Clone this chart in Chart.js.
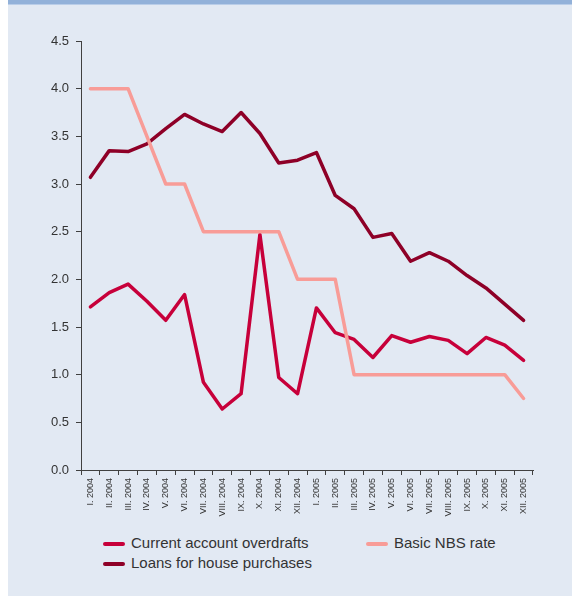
<!DOCTYPE html>
<html>
<head>
<meta charset="utf-8">
<script src="https://cdn.jsdelivr.net/npm/chart.js@4.4.0/dist/chart.umd.min.js"></script>
<style>
  html, body { margin: 0; padding: 0; background: #ffffff; }
  #panel { position: absolute; left: 8px; top: 0; width: 564px; height: 596px; background: #E2E9F3; }
  #bar { position: absolute; left: 0; top: 0; width: 564px; height: 4px; background: #92B1D9; border-bottom: 1px solid #B9CDE8; }
  #wrap { position: absolute; left: 0; top: 5px; width: 564px; height: 520px; }
  #legend { position: absolute; left: 95px; top: 533px; width: 460px; font-family: "Liberation Sans", Arial, sans-serif; font-size: 15px; color: #333; }
  .item { position: absolute; height: 20px; line-height: 20px; white-space: nowrap; }
  .item span.mark { display: inline-block; width: 22px; height: 4px; border-radius: 2px; vertical-align: middle; margin-right: 6px; }
</style>
</head>
<body>
<div id="panel">
  <div id="bar"></div>
  <div id="wrap"><canvas id="LineChart" width="564" height="520"></canvas></div>
  <div id="legend"></div>
</div>
<script>
var months = ["I.", "II.", "III.", "IV.", "V.", "VI.", "VII.", "VIII.", "IX.", "X.", "XI.", "XII."];
var labels = months.map(function (m) { return m + " 2004"; })
  .concat(months.map(function (m) { return m + " 2005"; }));

var overdrafts = [1.71, 1.86, 1.95, 1.77, 1.57, 1.84, 0.92, 0.64, 0.80, 2.47, 0.97, 0.80,
                  1.70, 1.44, 1.37, 1.18, 1.41, 1.34, 1.40, 1.36, 1.22, 1.39, 1.31, 1.15];
var housing = [3.07, 3.35, 3.34, 3.42, 3.58, 3.73, 3.63, 3.55, 3.75, 3.53, 3.22, 3.25,
               3.33, 2.88, 2.74, 2.44, 2.48, 2.19, 2.28, 2.19, 2.04, 1.91, 1.74, 1.57];
var nbsRate = [4.0, 4.0, 4.0, 3.5, 3.0, 3.0, 2.5, 2.5, 2.5, 2.5, 2.5, 2.0,
               2.0, 2.0, 1.0, 1.0, 1.0, 1.0, 1.0, 1.0, 1.0, 1.0, 1.0, 0.75];

var axisColor = "#404040";
var font = "'Liberation Sans', Arial, sans-serif";

// order: lower number is drawn on top (pink rate line sits over the others)
var datasets = [
  { label: "Current account overdrafts", data: overdrafts, borderColor: "#C7003A", order: 1 },
  { label: "Basic NBS rate", data: nbsRate, borderColor: "#F89C97", order: 0 },
  { label: "Loans for house purchases", data: housing, borderColor: "#8E0027", order: 2 }
];
datasets.forEach(function (d) {
  d.borderWidth = 3.5;
  d.pointRadius = 0;
  d.tension = 0;
  d.fill = false;
  d.borderJoinStyle = "round";
  d.borderCapStyle = "round";
});

var ctx = document.getElementById("LineChart").getContext('2d');
var myChart = new Chart(ctx, {
  type: 'line',
  data: { labels: labels, datasets: datasets },
  options: {
    responsive: false,
    animation: false,
    layout: { padding: { left: 0, top: 36, right: 39, bottom: 0 } },
    plugins: { legend: { display: false }, tooltip: { enabled: false } },
    scales: {
      x: {
        offset: true,
        grid: { offset: true, drawOnChartArea: false, drawTicks: true, tickLength: 5, color: axisColor },
        border: { color: axisColor, width: 1 },
        ticks: {
          autoSkip: false, minRotation: 90, maxRotation: 90, padding: 3,
          color: "#333", font: { family: font, size: 9 }
        },
        afterFit: function (s) { s.height = 55; }
      },
      y: {
        min: 0, max: 4.5,
        grid: { drawOnChartArea: false, drawTicks: true, tickLength: 5, color: axisColor },
        border: { color: axisColor, width: 1 },
        ticks: {
          stepSize: 0.5, padding: 7, color: "#333", font: { family: font, size: 13 },
          callback: function (v) { return Number(v).toFixed(1); }
        },
        afterFit: function (s) { s.width = 73; }
      }
    }
  }
});

// legend in two columns like the original
var legendPos = [[0, 0], [263, 0], [0, 20]];
var legend = document.getElementById("legend");
datasets.forEach(function (d, i) {
  var div = document.createElement("div");
  div.className = "item";
  div.style.left = legendPos[i][0] + "px";
  div.style.top = legendPos[i][1] + "px";
  div.innerHTML = '<span class="mark" style="background:' + d.borderColor + '"></span>' + d.label;
  legend.appendChild(div);
});
</script>
</body>
</html>
